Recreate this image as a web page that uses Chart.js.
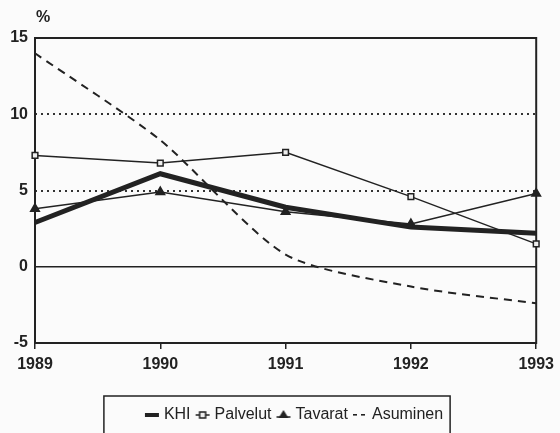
<!DOCTYPE html>
<html>
<head>
<meta charset="utf-8">
<script src="https://cdn.jsdelivr.net/npm/chart.js@4"></script>
<style>
  html, body { margin: 0; padding: 0; background: #fbfbfb; }
  #wrap { width: 560px; height: 433px; }
</style>
</head>
<body>
<div id="wrap"><canvas id="chart" width="560" height="433"></canvas></div>
<script>
const years = ["1989", "1990", "1991", "1992", "1993"];
const khi = [2.9, 6.1, 3.9, 2.6, 2.2];
const palvelut = [7.3, 6.8, 7.5, 4.6, 1.5];
const tavarat = [3.8, 4.9, 3.6, 2.8, 4.8];
const asuminen = [14.0, 8.3, 0.8, -1.3, -2.4];
const yMin = -5, yMax = 15, yStep = 5;
const dottedLines = [5, 10];

const ink = "#222";

// small legend icons (line + marker), drawn into canvases
function makeIcon(kind) {
    const c = document.createElement("canvas");
    c.width = 16; c.height = 12;
    const g = c.getContext("2d");
    g.strokeStyle = ink; g.fillStyle = ink;
    if (kind === "thick") {
        g.fillRect(1, 4, 14, 4);
    } else if (kind === "square") {
        g.lineWidth = 1.5;
        g.beginPath(); g.moveTo(1, 6); g.lineTo(15, 6); g.stroke();
        g.fillStyle = "#eee";
        g.fillRect(5, 3, 6, 6);
        g.strokeRect(5, 3, 6, 6);
    } else if (kind === "triangle") {
        g.lineWidth = 1.5;
        g.beginPath(); g.moveTo(1, 8); g.lineTo(15, 8); g.stroke();
        g.beginPath(); g.moveTo(8, 1); g.lineTo(13, 9); g.lineTo(3, 9); g.closePath(); g.fill();
    } else {
        g.fillRect(1, 5, 4, 1.6);
        g.fillRect(9, 5, 4, 1.6);
    }
    return c;
}
const icons = [makeIcon("thick"), makeIcon("square"), makeIcon("triangle"), makeIcon("dash")];

const framePlugin = {
    id: "frame",
    afterLayout(chart) {
        // the legend in the original sits a bit right of centre
        chart.legend.left += 27;
        chart.legend.right += 27;
    },
    beforeDatasetsDraw(chart) {
        const { ctx, chartArea: a, scales } = chart;
        ctx.save();
        ctx.strokeStyle = ink;
        ctx.lineWidth = 1.5;
        const y0 = scales.y.getPixelForValue(0);
        ctx.beginPath(); ctx.moveTo(a.left, y0); ctx.lineTo(a.right, y0); ctx.stroke();
        ctx.lineWidth = 2;
        ctx.strokeRect(a.left, a.top, a.right - a.left, a.bottom - a.top);
        ctx.fillStyle = ink;
        ctx.font = "bold 16px 'Liberation Sans', Arial, sans-serif";
        ctx.textAlign = "center";
        ctx.textBaseline = "middle";
        ctx.fillText("%", a.left + 8, a.top - 20);
        ctx.restore();
    },
    afterDraw(chart) {
        const boxes = chart.legend.legendHitBoxes;
        if (!boxes || !boxes.length) return;
        const first = boxes[0], last = boxes[boxes.length - 1];
        const ctx = chart.ctx;
        const x1 = first.left - 44, x2 = last.left + last.width + 7;
        ctx.save();
        ctx.strokeStyle = ink;
        ctx.lineWidth = 1.5;
        ctx.strokeRect(x1, first.top - 11, x2 - x1, 60);
        ctx.restore();
    }
};

const tickFont = { family: "'Liberation Sans', Arial, sans-serif", size: 16, weight: "bold" };

new Chart(document.getElementById("chart"), {
    type: "line",
    data: {
        labels: years,
        datasets: [
            { label: "KHI", data: khi, borderColor: ink, borderWidth: 5, pointRadius: 0, tension: 0, clip: false },
            { label: "Palvelut", data: palvelut, borderColor: ink, borderWidth: 1.5, pointStyle: "rect",
              pointRadius: 4, pointBackgroundColor: "#eee", pointBorderColor: ink, pointBorderWidth: 1.5, tension: 0, clip: false },
            { label: "Tavarat", data: tavarat, borderColor: ink, borderWidth: 1.5, pointStyle: "triangle",
              pointRadius: 5, pointBackgroundColor: ink, pointBorderColor: ink, tension: 0, clip: false },
            { label: "Asuminen", data: asuminen, borderColor: ink, borderWidth: 2, borderDash: [8, 6],
              pointRadius: 0, tension: 0.25, clip: false }
        ]
    },
    options: {
        responsive: false,
        animation: false,
        layout: { padding: { top: 38, right: 23, left: 0, bottom: 0 } },
        scales: {
            x: {
                offset: false,
                grid: { drawOnChartArea: false, drawTicks: true, tickLength: 6, color: ink, lineWidth: 1.5 },
                border: { display: false },
                ticks: { color: ink, font: tickFont, padding: 6, maxRotation: 0 },
                afterFit(scale) { scale.height = 56; }
            },
            y: {
                min: yMin, max: yMax,
                grid: {
                    drawTicks: false,
                    lineWidth: 2,
                    color: ctx => dottedLines.includes(ctx.tick && ctx.tick.value) ? "#333" : "transparent"
                },
                border: { display: false, dash: [2, 4] },
                ticks: { stepSize: yStep, color: ink, font: tickFont, padding: 7 },
                afterFit(scale) { scale.width = 35; }
            }
        },
        plugins: {
            tooltip: { enabled: false },
            legend: {
                position: "bottom",
                labels: {
                    usePointStyle: true,
                    boxWidth: 8,
                    boxHeight: 12,
                    padding: 8,
                    color: ink,
                    font: { family: "'Liberation Sans', Arial, sans-serif", size: 16 },
                    generateLabels(chart) {
                        const items = Chart.defaults.plugins.legend.labels.generateLabels(chart);
                        items.forEach((it, i) => { it.pointStyle = icons[i]; it.lineDash = []; });
                        return items;
                    }
                }
            }
        }
    },
    plugins: [framePlugin]
});
</script>
</body>
</html>
